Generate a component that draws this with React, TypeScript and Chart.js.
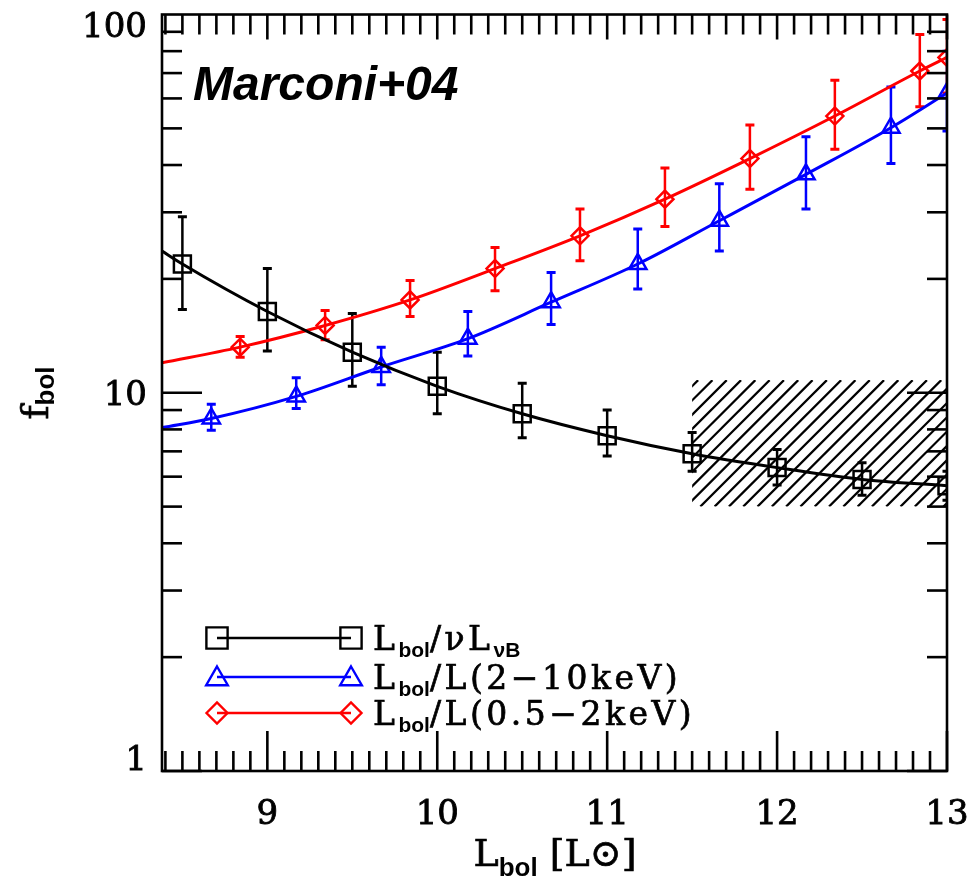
import React, { useEffect, useRef } from 'react';
import { Chart, registerables } from 'chart.js';

Chart.register(...registerables);

// ---- axes ----
const X_MIN = 8.38;
const X_MAX = 13;
const Y_MIN = 1;
const Y_MAX = 100;
const X_TICKS = [9, 10, 11, 12, 13];
const Y_TICKS = [1, 10, 100];

// ---- Lbol / nu L_nu(B) (black squares) ----
const OPT_X = [8.5, 9, 9.5, 10, 10.5, 11, 11.5, 12, 12.5, 13];
const OPT_Y = [21.9, 16.4, 12.8, 10.4, 8.8, 7.7, 6.9, 6.34, 5.9, 5.68];
const OPT_LO = [16.6, 12.9, 10.4, 8.8, 7.6, 6.8, 6.2, 5.7, 5.36, 5.2];
const OPT_HI = [29.2, 21.3, 16.2, 12.8, 10.6, 9.0, 7.85, 7.08, 6.53, 6.2];
const OPT_CURVE_START = 23.7;

// ---- Lbol / L(2-10keV) (blue triangles) ----
const HX_X = [8.67, 9.17, 9.67, 10.18, 10.67, 11.18, 11.66, 12.17, 12.67, 13];
const HX_Y = [8.55, 9.78, 11.7, 13.9, 17.35, 21.9, 28.5, 37.8, 50.2, 62];
const HX_LO = [7.96, 9.08, 10.5, 12.5, 15.15, 18.8, 23.7, 30.6, 40.4, 49.2];
const HX_HI = [9.32, 10.96, 13.2, 16.4, 20.8, 27.1, 35.7, 47.5, 64.3, 80];
const HX_CURVE_START = 8.09;

// ---- Lbol / L(0.5-2keV) (red diamonds) ----
const SX_X = [8.84, 9.34, 9.84, 10.34, 10.84, 11.34, 11.84, 12.34, 12.84, 13];
const SX_Y = [13.2, 15.06, 17.6, 21.3, 26.0, 32.5, 41.6, 53.9, 70.9, 77];
const SX_LO = [12.42, 13.81, 15.9, 18.6, 22.35, 27.5, 34.5, 44.0, 57.0, 62];
const SX_HI = [14.09, 16.5, 19.8, 24.2, 30.6, 39.3, 51.0, 67.0, 88.6, 97];
const SX_CURVE_START = 12.0;

// ---- hatched region ----
const HATCH_X = [11.5, 13];
const HATCH_Y = [5, 10.8];

const TITLE = 'Marconi+04';

type Seg = { t: string; sub?: boolean };
const LEGEND: Seg[][] = [
  [{ t: 'L' }, { t: 'bol', sub: true }, { t: '/νL' }, { t: 'νB', sub: true }],
  [{ t: 'L' }, { t: 'bol', sub: true }, { t: '/L(2−10keV)' }],
  [{ t: 'L' }, { t: 'bol', sub: true }, { t: '/L(0.5−2keV)' }],
];
const X_TITLE: Seg[] = [{ t: 'L' }, { t: 'bol', sub: true }, { t: ' [L⊙]' }];
const Y_TITLE: Seg[] = [{ t: 'f' }, { t: 'bol', sub: true }];

const BLACK = '#000000';
const BLUE = '#0000ff';
const RED = '#ff0000';

type Series = {
  xs: number[]; ys: number[]; lo: number[]; hi: number[]; start: number;
  color: string; style: string; radius: number;
};
const SERIES: Series[] = [
  { xs: OPT_X, ys: OPT_Y, lo: OPT_LO, hi: OPT_HI, start: OPT_CURVE_START, color: BLACK, style: 'rect', radius: 12 },
  { xs: HX_X, ys: HX_Y, lo: HX_LO, hi: HX_HI, start: HX_CURVE_START, color: BLUE, style: 'triangle', radius: 10 },
  { xs: SX_X, ys: SX_Y, lo: SX_LO, hi: SX_HI, start: SX_CURVE_START, color: RED, style: 'rectRot', radius: 8.5 },
];

function toPts(xs: number[], ys: number[]) {
  return xs.map((x, i) => ({ x, y: ys[i] }));
}

function line(ctx: CanvasRenderingContext2D, x0: number, y0: number, x1: number, y1: number) {
  ctx.beginPath();
  ctx.moveTo(x0, y0);
  ctx.lineTo(x1, y1);
  ctx.stroke();
}

function marker(ctx: CanvasRenderingContext2D, style: string, x: number, y: number, r: number) {
  ctx.beginPath();
  if (style === 'rect') {
    const s = Math.SQRT1_2 * r;
    ctx.rect(x - s, y - s, 2 * s, 2 * s);
  } else if (style === 'triangle') {
    ctx.moveTo(x, y - r);
    ctx.lineTo(x + r * Math.sin(Math.PI / 3), y + r / 2);
    ctx.lineTo(x - r * Math.sin(Math.PI / 3), y + r / 2);
    ctx.closePath();
  } else {
    ctx.moveTo(x - r, y);
    ctx.lineTo(x, y - r);
    ctx.lineTo(x + r, y);
    ctx.lineTo(x, y + r);
    ctx.closePath();
  }
  ctx.stroke();
}

const MAIN_SERIF = '"DejaVu Serif", serif';
const SUB_SANS = '"Liberation Sans", Arial, sans-serif';

function heavyText(ctx: CanvasRenderingContext2D, t: string, x: number, y: number) {
  ctx.fillText(t, x, y);
  ctx.strokeText(t, x, y);
}

function richWidth(ctx: CanvasRenderingContext2D, segs: Seg[], mainPx: number, subPx: number, spacing: number) {
  let w = 0;
  for (const s of segs) {
    ctx.font = s.sub ? `bold ${subPx}px ${SUB_SANS}` : `${mainPx}px ${MAIN_SERIF}`;
    for (const ch of s.t) w += ctx.measureText(ch).width + (s.sub ? 0 : spacing);
  }
  return w;
}

function drawRich(
  ctx: CanvasRenderingContext2D, segs: Seg[], x: number, y: number,
  mainPx: number, subPx: number, subDy: number, spacing: number, align: 'left' | 'center'
) {
  let cx = x;
  if (align === 'center') cx = x - richWidth(ctx, segs, mainPx, subPx, spacing) / 2;
  ctx.textAlign = 'left';
  ctx.textBaseline = 'alphabetic';
  ctx.strokeStyle = ctx.fillStyle as string;
  ctx.lineWidth = 0.7;
  for (const s of segs) {
    ctx.font = s.sub ? `bold ${subPx}px ${SUB_SANS}` : `${mainPx}px ${MAIN_SERIF}`;
    for (const ch of s.t) {
      if (s.sub) ctx.fillText(ch, cx, y + subDy);
      else heavyText(ctx, ch, cx, y);
      cx += ctx.measureText(ch).width + (s.sub ? 0 : spacing);
    }
  }
}

const decorPlugin = {
  id: 'decor',
  beforeDatasetsDraw(chart: any) {
    const ctx: CanvasRenderingContext2D = chart.ctx;
    const { left, right, top, bottom } = chart.chartArea;
    const xs = chart.scales.x;
    const ys = chart.scales.y;
    ctx.save();
    ctx.beginPath();
    ctx.rect(left, top, right - left, bottom - top);
    ctx.clip();

    // hatched region
    const hx0 = xs.getPixelForValue(HATCH_X[0]);
    const hx1 = xs.getPixelForValue(HATCH_X[1]);
    const hy0 = ys.getPixelForValue(HATCH_Y[1]);
    const hy1 = ys.getPixelForValue(HATCH_Y[0]);
    ctx.save();
    ctx.beginPath();
    ctx.rect(hx0, hy0, hx1 - hx0, hy1 - hy0);
    ctx.clip();
    ctx.strokeStyle = BLACK;
    ctx.lineWidth = 2.2;
    const h = hy1 - hy0;
    for (let s = hx0 - h + 6; s < hx1 + 2; s += 14.3) {
      line(ctx, s, hy1, s + h, hy0);
    }
    ctx.restore();

    // error bars
    for (const se of SERIES) {
      ctx.strokeStyle = se.color;
      se.xs.forEach((xv, i) => {
        const px = xs.getPixelForValue(xv);
        const pLo = ys.getPixelForValue(se.lo[i]);
        const pHi = ys.getPixelForValue(se.hi[i]);
        ctx.lineWidth = 2.5;
        line(ctx, px, pLo, px, pHi);
        ctx.lineWidth = 3;
        line(ctx, px - 4.5, pLo, px + 4.5, pLo);
        line(ctx, px - 4.5, pHi, px + 4.5, pHi);
      });
    }
    ctx.restore();
  },
  afterDatasetsDraw(chart: any) {
    const ctx: CanvasRenderingContext2D = chart.ctx;
    const { left, right, top, bottom } = chart.chartArea;
    const xs = chart.scales.x;
    const ys = chart.scales.y;
    ctx.save();
    ctx.strokeStyle = BLACK;
    ctx.fillStyle = BLACK;
    ctx.lineWidth = 2.6;
    ctx.lineCap = 'butt';

    // frame
    ctx.strokeRect(left, top, right - left, bottom - top);

    // x ticks (major every 1, minor every 0.1)
    for (let i = Math.ceil(X_MIN * 10); i <= Math.round(X_MAX * 10); i++) {
      const px = xs.getPixelForValue(i / 10);
      const major = i % 10 === 0;
      line(ctx, px, bottom, px, bottom - (major ? 40 : 20));
      line(ctx, px, top, px, top + (major ? 25 : 20));
    }
    // y ticks (log)
    for (let d = 0; d < 2; d++) {
      for (let m = 1; m <= 9; m++) {
        const v = m * Math.pow(10, d);
        const py = ys.getPixelForValue(v);
        const major = m === 1;
        line(ctx, left, py, left + (major ? 40 : 20), py);
        line(ctx, right, py, right - (major ? 40 : 20), py);
      }
    }

    // tick labels
    ctx.font = `34px ${MAIN_SERIF}`;
    ctx.lineWidth = 0.8;
    ctx.textBaseline = 'middle';
    ctx.textAlign = 'center';
    for (const t of X_TICKS) {
      heavyText(ctx, String(t), xs.getPixelForValue(t), 815);
    }
    ctx.textAlign = 'right';
    for (const t of Y_TICKS) {
      const py = Math.min(Math.max(ys.getPixelForValue(t) + 3, top + 14), bottom - 10);
      heavyText(ctx, String(t), 147, py);
    }

    // axis titles
    ctx.fillStyle = BLACK;
    drawRich(ctx, X_TITLE, 555, 866, 38, 26, 10, 0, 'center');
    ctx.save();
    ctx.translate(48, 393);
    ctx.rotate(-Math.PI / 2);
    drawRich(ctx, Y_TITLE, 0, 0, 38, 26, 6, 0, 'center');
    ctx.restore();

    // legend
    const rowsY = [638, 677, 713];
    const lx0 = 217;
    const lx1 = 351;
    LEGEND.forEach((segs, i) => {
      const se = SERIES[i];
      const y = rowsY[i];
      ctx.strokeStyle = se.color;
      ctx.lineWidth = 2.6;
      line(ctx, lx0, y, lx1, y);
      ctx.lineWidth = 2.4;
      const r = se.style === 'rect' ? 15 : se.style === 'triangle' ? 12.5 : 10.5;
      const yy = se.style === 'triangle' ? y + 2 : y;
      marker(ctx, se.style, lx0, yy, r);
      marker(ctx, se.style, lx1, yy, r);
      ctx.fillStyle = BLACK;
      drawRich(ctx, segs, 373, y + 12, 33, 21, 7, 3.5, 'left');
    });

    // panel title
    ctx.fillStyle = BLACK;
    ctx.font = `italic bold 48px "Liberation Sans", Arial, sans-serif`;
    ctx.textAlign = 'left';
    ctx.textBaseline = 'alphabetic';
    ctx.fillText(TITLE, 193, 100);

    ctx.restore();
  },
};

export default function App() {
  const ref = useRef<HTMLCanvasElement | null>(null);

  useEffect(() => {
    document.body.style.margin = '0';
    const canvas = ref.current;
    if (!canvas) return;

    const datasets: any[] = [];
    SERIES.forEach((se) => {
      datasets.push({
        type: 'line',
        data: [{ x: X_MIN, y: se.start }, ...toPts(se.xs, se.ys)],
        borderColor: se.color,
        borderWidth: 3,
        pointRadius: 0,
        fill: false,
        cubicInterpolationMode: 'monotone',
        clip: 0,
      });
      datasets.push({
        type: 'scatter',
        data: toPts(se.xs, se.ys),
        borderColor: se.color,
        backgroundColor: 'rgba(0,0,0,0)',
        pointStyle: se.style,
        pointRadius: se.radius,
        pointBorderWidth: 2.5,
        showLine: false,
        clip: 0,
      });
    });

    const chart = new Chart(canvas, {
      type: 'scatter',
      data: { datasets },
      options: {
        animation: false,
        responsive: false,
        devicePixelRatio: 1,
        layout: { padding: { left: 162, right: 26, top: 13, bottom: 112 } },
        plugins: { legend: { display: false }, tooltip: { enabled: false }, title: { display: false } },
        events: [],
        scales: {
          x: { type: 'linear', min: X_MIN, max: X_MAX, display: false },
          y: { type: 'logarithmic', min: Y_MIN, max: Y_MAX, display: false },
        },
      },
      plugins: [decorPlugin],
    } as any);

    return () => chart.destroy();
  }, []);

  return (
    <div style={{ width: 973, height: 883, background: '#fff' }}>
      <canvas ref={ref} width={973} height={883} style={{ display: 'block' }} />
    </div>
  );
}
